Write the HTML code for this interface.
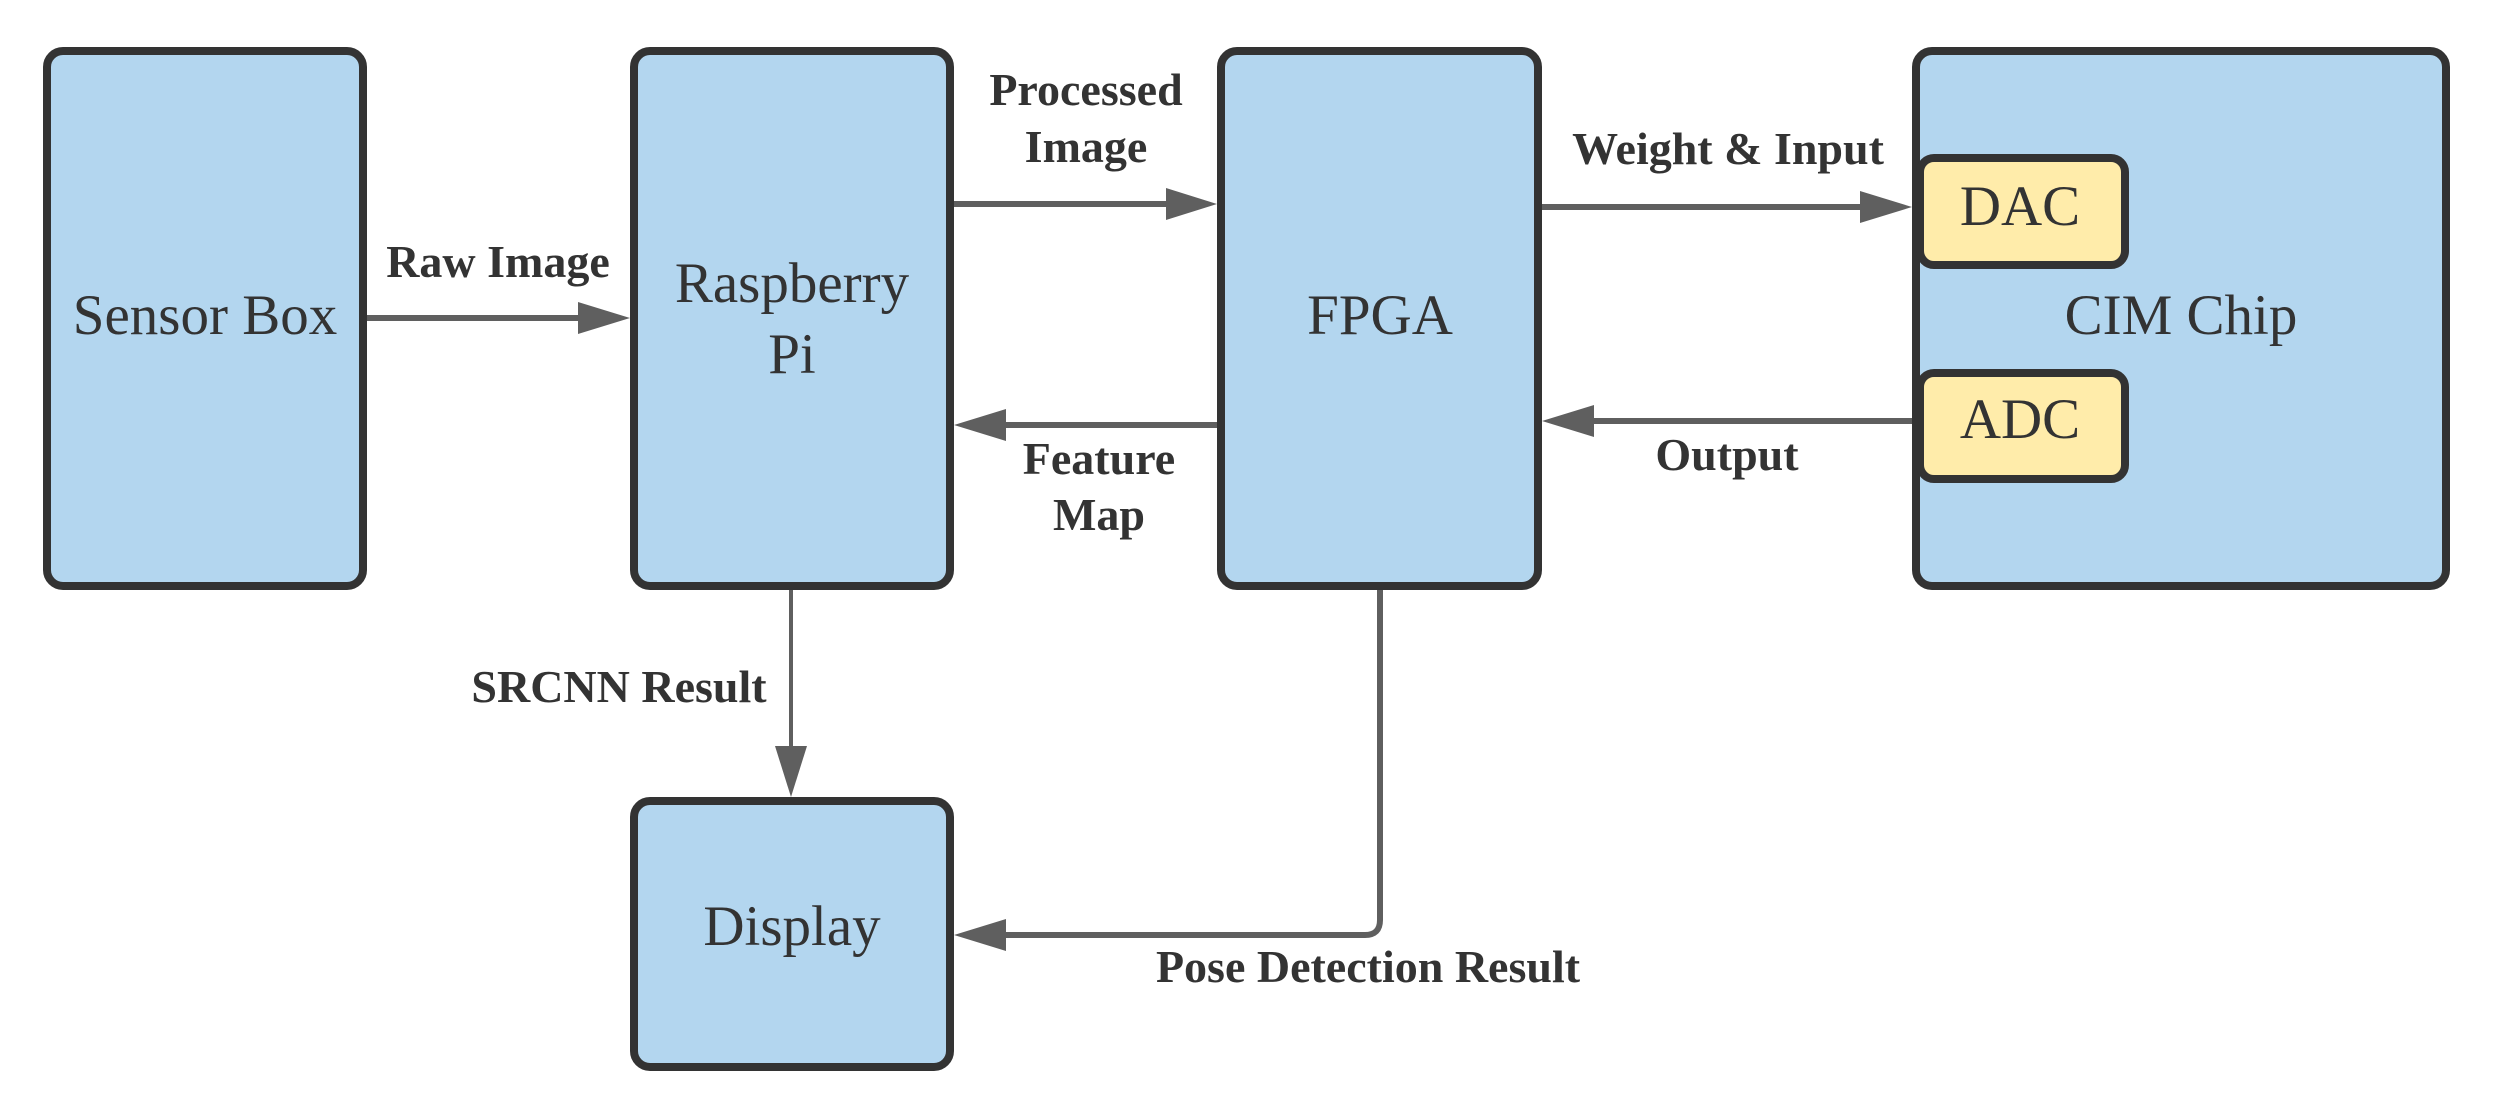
<!DOCTYPE html>
<html><head><meta charset="utf-8"><style>html,body{margin:0;padding:0;background:#fff}svg{display:block}</style></head>
<body>
<svg width="2499" height="1115" viewBox="0 0 2499 1115" xmlns="http://www.w3.org/2000/svg">
<g fill="#b3d6ef" stroke="#333" stroke-width="8">
<rect x="47" y="51" width="316" height="535" rx="16"/>
<rect x="634" y="51" width="316" height="535" rx="16"/>
<rect x="1221" y="51" width="317" height="535" rx="16"/>
<rect x="1916" y="51" width="530" height="535" rx="16"/>
<rect x="634" y="801" width="316" height="266" rx="16"/>
</g>
<g fill="#ffecaa" stroke="#333" stroke-width="8">
<rect x="1920" y="158" width="205" height="107" rx="14"/>
<rect x="1920" y="373" width="205" height="106" rx="14"/>
</g>
<g stroke="#5f5f5f" stroke-width="6" fill="none">
<line x1="367" y1="318" x2="582" y2="318"/>
<line x1="954" y1="204" x2="1170" y2="204"/>
<line x1="1217" y1="425" x2="1000" y2="425"/>
<line x1="1542" y1="207" x2="1865" y2="207"/>
<line x1="1912" y1="421" x2="1590" y2="421"/>
<path d="M1380,590 V920 Q1380,935 1365,935 H1000"/>
<line x1="791" y1="590" x2="791" y2="750" stroke-width="4"/>
</g>
<g fill="#5f5f5f">
<path d="M578,302 L630,318 L578,334 Z"/>
<path d="M1166,188 L1217,204 L1166,220 Z"/>
<path d="M1006,409 L954,425 L1006,441 Z"/>
<path d="M1860,191 L1912,207 L1860,223 Z"/>
<path d="M1594,405 L1542,421 L1594,437 Z"/>
<path d="M1006,919 L954,935 L1006,951 Z"/>
<path d="M775,746 L807,746 L791,797 Z"/>
</g>
<g font-family="'Liberation Serif', serif" fill="#333" text-anchor="middle" font-size="57">
<text x="205" y="334">Sensor Box</text>
<text x="792" y="302">Raspberry</text>
<text x="792" y="373">Pi</text>
<text x="1380" y="334">FPGA</text>
<text x="2181" y="334">CIM Chip</text>
<text x="2020" y="225">DAC</text>
<text x="2020" y="438">ADC</text>
<text x="792" y="945">Display</text>
</g>
<g font-family="'Liberation Serif', serif" font-weight="bold" fill="#333" text-anchor="middle" font-size="46">
<text x="498" y="277">Raw Image</text>
<text x="1086" y="105">Processed</text>
<text x="1086" y="162">Image</text>
<text x="1099" y="474">Feature</text>
<text x="1099" y="530">Map</text>
<text x="1728" y="164">Weight &amp; Input</text>
<text x="1727" y="470">Output</text>
<text x="619" y="702">SRCNN Result</text>
<text x="1368" y="982">Pose Detection Result</text>
</g>
</svg>
</body></html>
